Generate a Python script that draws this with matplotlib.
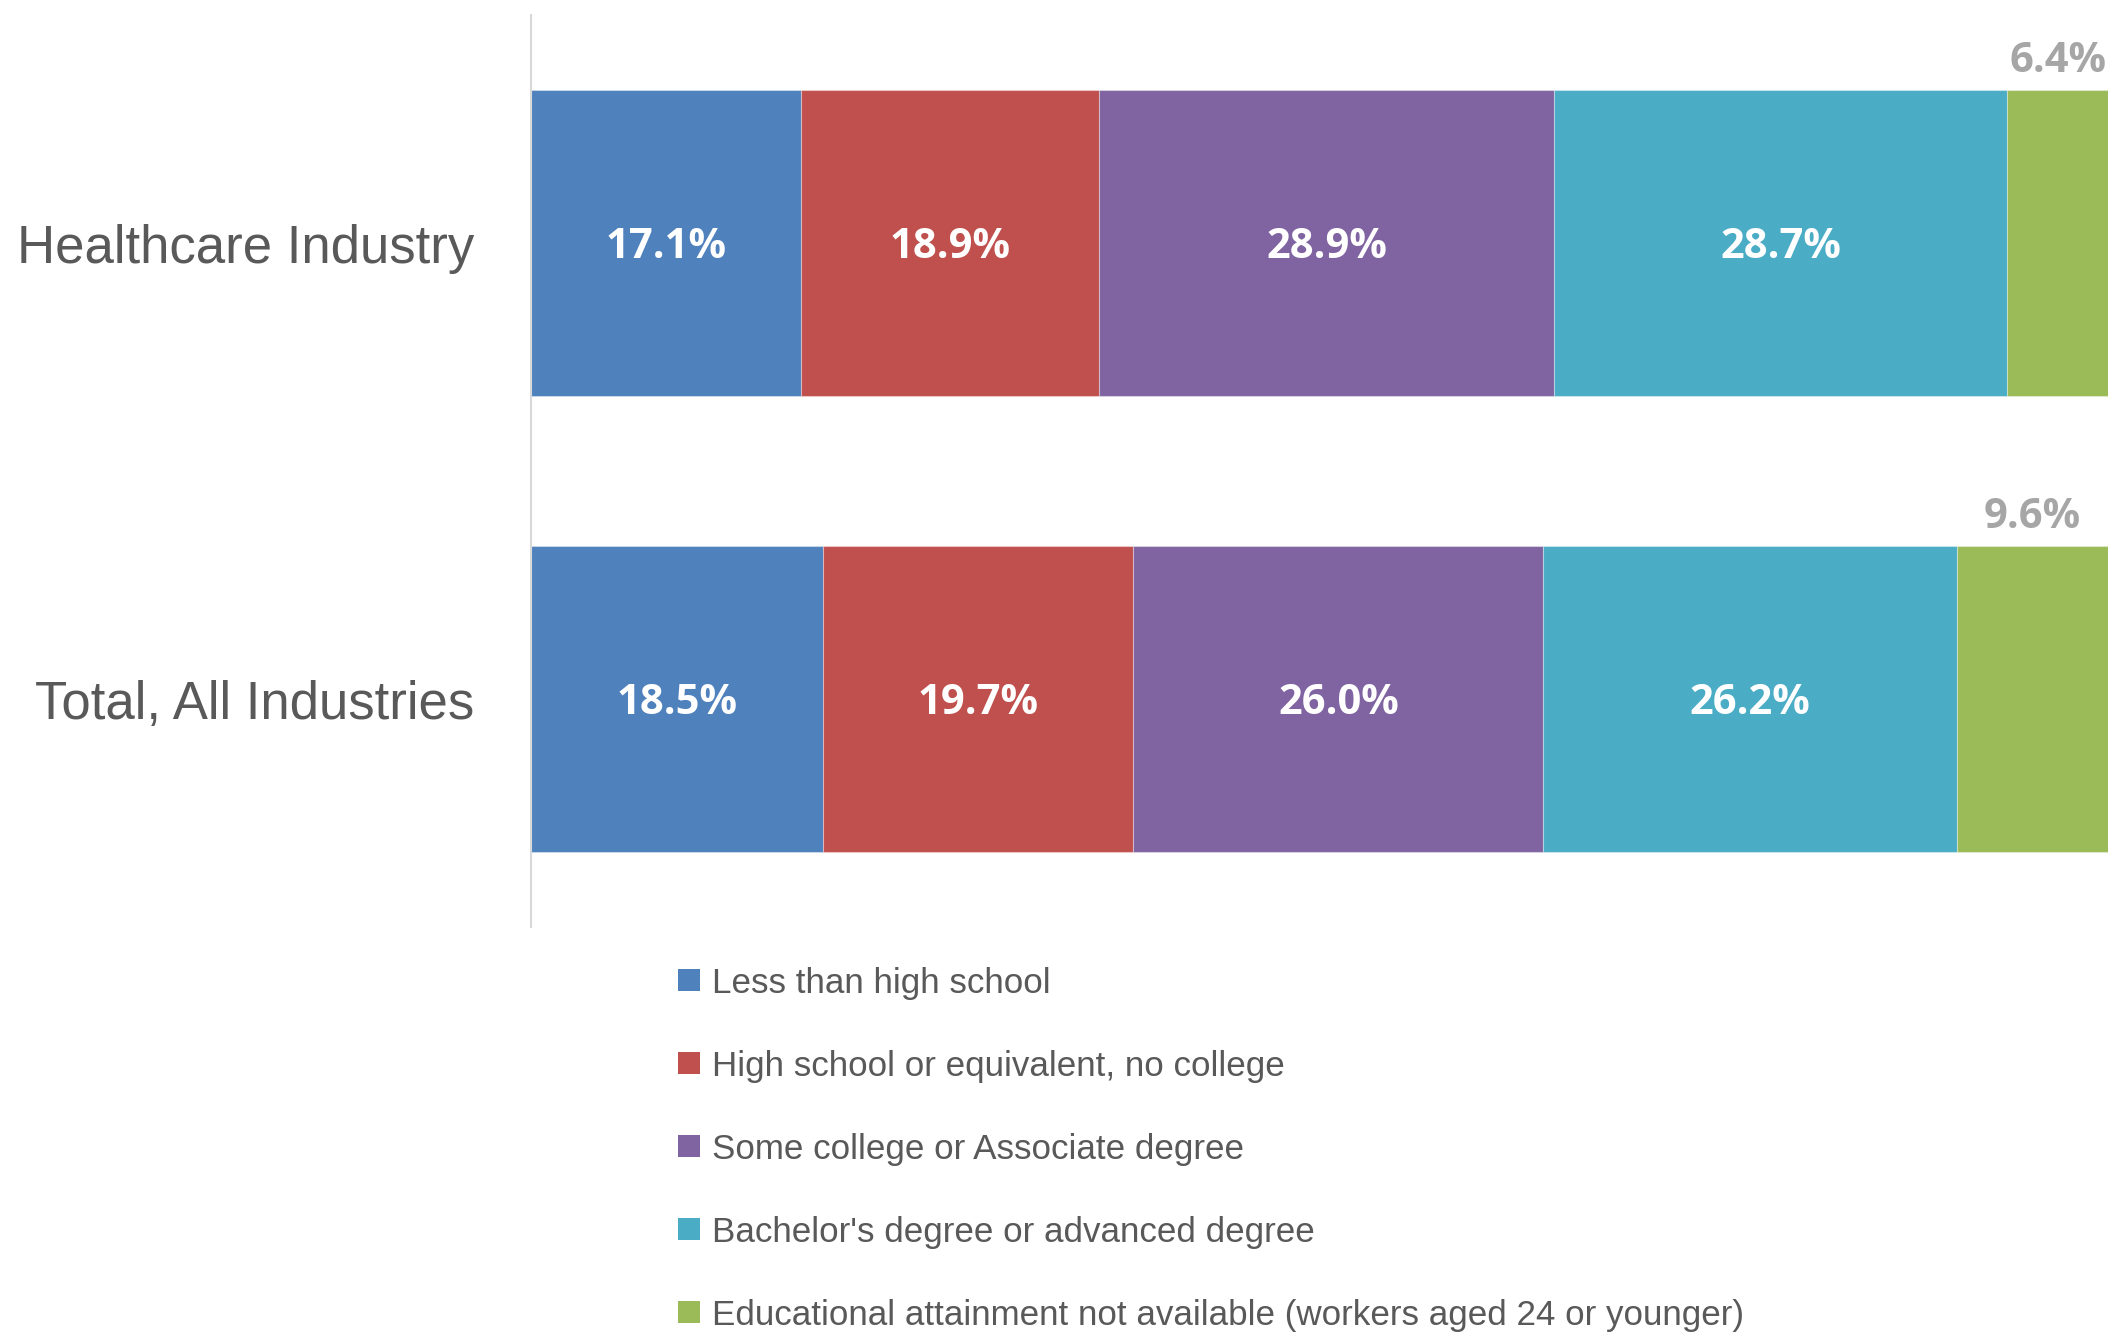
import matplotlib
matplotlib.use("Agg")
import matplotlib.pyplot as plt
from matplotlib.patches import Rectangle
import numpy as np

categories = ["Healthcare Industry", "Total, All Industries"]
series_names = [
    "Less than high school",
    "High school or equivalent, no college",
    "Some college or Associate degree",
    "Bachelor's degree or advanced degree",
    "Educational attainment not available (workers aged 24 or younger)",
]
less_than_hs = [17.1, 18.5]
high_school = [18.9, 19.7]
some_college = [28.9, 26.0]
bachelors = [28.7, 26.2]
not_available = [6.4, 9.6]

colors = ["#4F81BD", "#C0504D", "#8064A2", "#4BACC6", "#9BBB59"]

W, H = 2109, 1333
fig = plt.figure(figsize=(W / 100, H / 100), dpi=100)
ax = fig.add_axes([531 / W, 1 - 927 / H, (2108 - 531) / W, (927 - 15) / H])

sans = ["Liberation Sans", "DejaVu Sans"]
bold_font = ["Open Sans", "DejaVu Sans"]

series = [less_than_hs, high_school, some_college, bachelors, not_available]
y = np.arange(len(categories))
bar_h = 0.669
left = np.zeros(len(categories))
for i, (vals, col) in enumerate(zip(series, colors)):
    vals = np.array(vals)
    ax.barh(y, vals, left=left, height=bar_h, color=col,
            edgecolor=(1, 1, 1, 0.35), linewidth=0.8)
    for j, v in enumerate(vals):
        cx = left[j] + v / 2
        if i < len(series) - 1:
            ax.annotate(f"{v:.1f}%", xy=(cx, y[j]), xytext=(0, -3),
                        textcoords="offset points", ha="center", va="center",
                        color="white", fontsize=30, fontweight="bold",
                        family=bold_font)
        else:
            ax.annotate(f"{v:.1f}%", xy=(cx, y[j] - bar_h / 2),
                        xytext=(0, 21), textcoords="offset points",
                        ha="center", va="center", color="#A6A6A6",
                        fontsize=30, fontweight="bold", family=bold_font)
    left = left + vals

ax.set_xlim(0, 100)
ax.set_ylim(1.5, -0.5)
ax.set_yticks(y)
ax.set_yticklabels(categories, family=sans, fontsize=38, color="#595959")
ax.tick_params(axis="y", length=0, pad=41)
ax.set_xticks([])
for s in ["top", "right", "bottom"]:
    ax.spines[s].set_visible(False)
ax.spines["left"].set_color("#D9D9D9")
ax.spines["left"].set_linewidth(1.5)
ax.set_facecolor("white")

# legend
row_y = [980, 1063, 1146, 1229, 1312]
sq = 22
for name, col, ry in zip(series_names, colors, row_y):
    fig.add_artist(Rectangle((678 / W, 1 - (ry + sq / 2) / H), sq / W, sq / H,
                             transform=fig.transFigure, color=col, lw=0))
    fig.text(712 / W, 1 - ry / H, name, ha="left", va="center_baseline",
             fontsize=25.2, color="#595959", family=sans)

fig.savefig("out.png", dpi=100, facecolor="white")
